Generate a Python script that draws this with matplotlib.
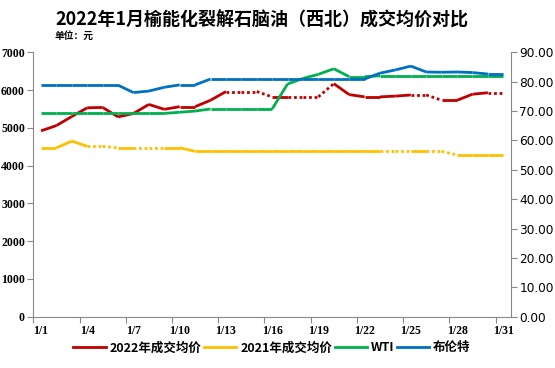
import numpy as np
import matplotlib.pyplot as plt
from matplotlib.lines import Line2D

plt.rcParams['font.family'] = ['Noto Sans CJK SC', 'DejaVu Sans']

days = [f"1/{d}" for d in range(1, 32)]

# 2022 avg price (yuan), left axis
p2022 = [4920, 5060, 5300, 5530, 5540, 5290, 5380, 5620, 5490, 5560,
         5560, 5730, 5960, 5960, 5960, 5820, 5820, 5820, 5820, 6170,
         5880, 5820, 5820, 5840, 5870, 5870, 5730, 5730, 5890, 5930, 5930]
# 2021 avg price (yuan), left axis
p2021 = [4470, 4470, 4650, 4510, 4510, 4470, 4470, 4470, 4470, 4470,
         4380, 4380, 4380, 4380, 4380, 4380, 4380, 4380, 4380, 4380,
         4380, 4380, 4380, 4380, 4380, 4380, 4380, 4280, 4280, 4280, 4280]
# WTI, right axis
wti = [69.2, 69.2, 69.2, 69.2, 69.2, 69.2, 69.2, 69.2, 69.2, 69.6,
       70.0, 70.7, 70.7, 70.7, 70.7, 70.7, 79.2, 81.1, 82.5, 84.4,
       81.7, 81.7, 82.0, 82.0, 82.0, 82.0, 82.0, 82.0, 82.0, 82.0, 82.0]
# Brent, right axis
brent = [78.8, 78.8, 78.8, 78.8, 78.8, 78.8, 76.3, 76.8, 78.1, 78.9,
         78.9, 80.9, 80.9, 80.9, 80.9, 80.9, 80.9, 80.9, 80.9, 80.9,
         80.9, 80.9, 82.9, 84.0, 85.3, 83.3, 83.2, 83.3, 83.1, 82.6, 82.6]

# segments (start index) drawn dotted
dot2022 = [12, 13, 14, 16, 17, 18, 24, 25, 29]
dot2021 = [3, 4, 6, 7, 22, 23, 25, 26]

c_red, c_yel, c_grn, c_blu = "#C00000", "#FFC000", "#00B050", "#0070C0"

fig = plt.figure(figsize=(5.55, 3.68), dpi=100)
ax = fig.add_axes([0.060, 0.1394, 0.8607, 0.7185])
ax2 = ax.twinx()

x = np.arange(len(days))


def draw(axis, vals, color, dotted=()):
    for i in range(len(vals) - 1):
        ls = (0, (1, 1)) if i in dotted else "-"
        axis.plot(x[i:i + 2], vals[i:i + 2], color=color, lw=2,
                  ls=ls, solid_capstyle="butt", dash_capstyle="butt")


draw(ax, p2022, c_red, dot2022)
draw(ax, p2021, c_yel, dot2021)
draw(ax2, wti, c_grn)
draw(ax2, brent, c_blu)

ax.set_ylim(0, 7000)
ax.set_yticks(range(0, 7001, 1000))
ax2.set_ylim(0, 90)
ax2.set_yticks(range(0, 91, 10))
ax2.set_yticklabels([f"{v:.2f}" for v in range(0, 91, 10)])
ax.set_xlim(-0.5, 30.5)

ax.set_xticks(np.arange(-0.5, 30, 3))
ax.set_xticklabels([])
ax.set_xticks(x[::3], minor=True)
ax.set_xticklabels(days[::3], minor=True, fontweight="bold",
                   family=["Liberation Serif"], fontsize=8.5)
ax.tick_params(axis="x", which="major", length=4, color="#888888")
ax.tick_params(axis="x", which="minor", length=0, pad=6)

for lab in ax.get_yticklabels():
    lab.set_family(["Liberation Serif"])
    lab.set_fontweight("bold")
    lab.set_fontsize(8.5)
ax.tick_params(axis="y", length=4, color="#888888", pad=2)
ax2.tick_params(axis="y", length=4, color="#888888", labelsize=8.7, pad=2)
for lab in ax2.get_yticklabels():
    lab.set_family(["DejaVu Sans"])

for a in (ax, ax2):
    a.spines["top"].set_visible(False)
    for s in ("left", "right", "bottom"):
        a.spines[s].set_color("#888888")
ax.spines["right"].set_visible(False)
ax2.spines["left"].set_visible(False)
ax2.spines["bottom"].set_visible(False)

fig.text(0.472, 0.945, "2022年1月榆能化裂解石脑油（西北）成交均价对比",
         ha="center", va="center", fontsize=13, fontweight="bold")
fig.text(0.098, 0.902, "单位：元", ha="left", va="center",
         fontsize=7, fontweight="bold")

handles = [Line2D([], [], color=c, lw=2) for c in (c_red, c_yel, c_grn, c_blu)]
labels = ["2022年成交均价", "2021年成交均价", "WTI", "布伦特"]
fig.legend(handles, labels, loc="center", bbox_to_anchor=(0.49, 0.055),
           ncol=4, frameon=False, handlelength=2.6, handletextpad=0.3,
           columnspacing=0.2, prop={"weight": "bold", "size": 9})

fig.savefig("out.png", dpi=100)
